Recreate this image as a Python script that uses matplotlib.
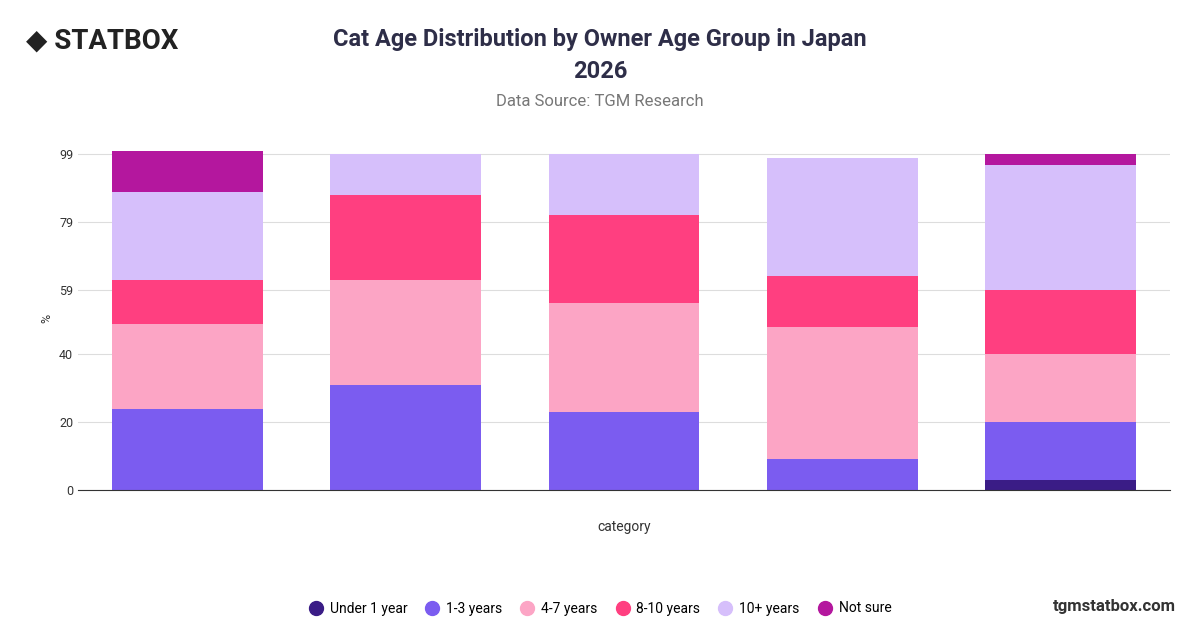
import matplotlib.pyplot as plt
import numpy as np

plt.rcParams['font.family'] = ['Roboto', 'DejaVu Sans']

groups = ['18-29', '30-39', '40-49', '50-59', '60+']
series = ['Under 1 year', '1-3 years', '4-7 years', '8-10 years', '10+ years', 'Not sure']
values = {
    'Under 1 year': [0, 0, 0, 0, 3],
    '1-3 years': [24, 31, 23, 9, 17],
    '4-7 years': [25, 31, 32, 39, 20],
    '8-10 years': [13, 25, 26, 15, 19],
    '10+ years': [26, 12, 18, 35, 37],
    'Not sure': [12, 0, 0, 0, 3],
}
colors = ['#3a1c86', '#7b5cf0', '#fca5c5', '#ff3f80', '#d6bffb', '#b4179e']
yticks = [0, 20, 40, 59, 79, 99]

fig = plt.figure(figsize=(12, 6.28), dpi=100)
ax = fig.add_axes([0.065, 0.22, 0.91, 0.545])

x = np.arange(len(groups))
bottom = np.zeros(len(groups))
for name, c in zip(series, colors):
    v = np.array(values[name], dtype=float)
    ax.bar(x, v, bottom=bottom, width=0.69, color=c, label=name)
    bottom += v

ax.set_xlim(-0.5, len(groups) - 0.5)
ax.set_ylim(0, 101)
ax.set_yticks(yticks)
ax.set_xticks([])
ax.tick_params(axis='y', length=0, labelsize=9, colors='#333333')
ax.grid(axis='y', color='#dddddd', linewidth=0.8)
ax.set_axisbelow(True)
for s in ['top', 'right', 'left']:
    ax.spines[s].set_visible(False)
ax.spines['bottom'].set_color('#333333')
ax.set_ylabel('%', fontsize=9, color='#333333')
ax.set_xlabel('category', fontsize=10, color='#333333', labelpad=22)

fig.text(0.5, 0.912, 'Cat Age Distribution by Owner Age Group in Japan\n2026',
         ha='center', va='center', fontsize=17, fontweight='bold', color='#2e2e48',
         linespacing=1.5)
fig.text(0.5, 0.838, 'Data Source: TGM Research', ha='center', va='center',
         fontsize=12, color='#777777')
fig.text(0.022, 0.935, '◆ STATBOX', ha='left', va='center', fontsize=20,
         fontweight='bold', color='#222222')
fig.text(0.98, 0.035, 'tgmstatbox.com', ha='right', va='center', fontsize=12,
         fontweight='bold', color='#333333')

fig.legend(loc='lower center', bbox_to_anchor=(0.5, 0.0), ncol=6, frameon=False,
           fontsize=10, handlelength=1, handletextpad=0.5, columnspacing=1.3,
           handles=[plt.Line2D([], [], marker='o', ls='', color=c, markersize=10) for c in colors],
           labels=series)

fig.savefig('out.png')
